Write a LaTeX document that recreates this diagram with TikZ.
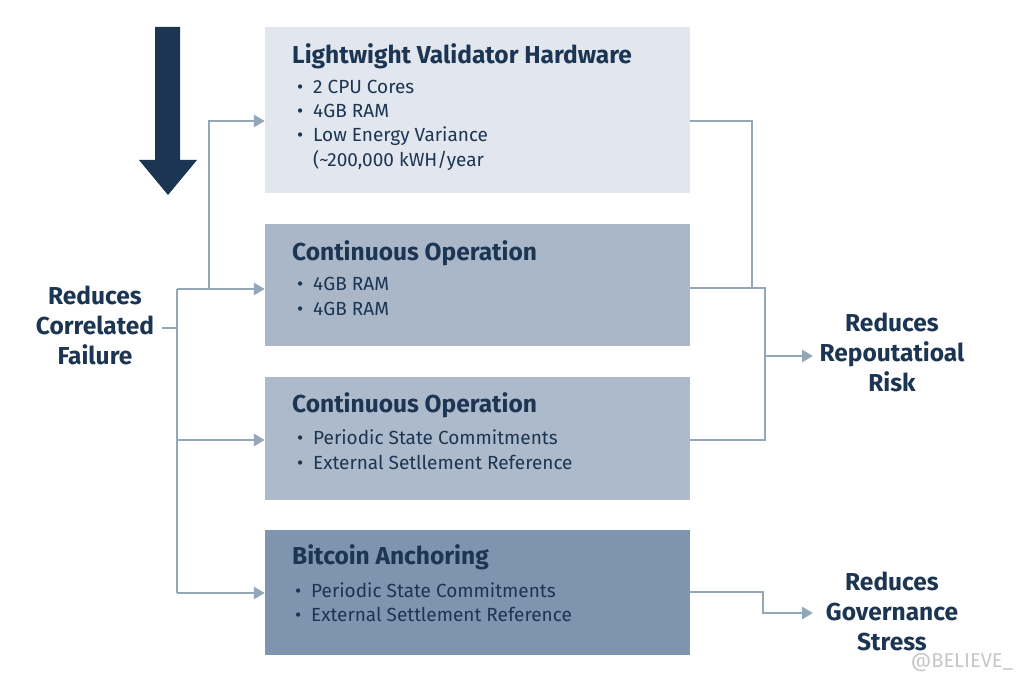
\documentclass[tikz,border=0pt]{standalone}
\usepackage{fontspec}
\setmainfont{Fira Sans}
\usepackage{tikz}
\usetikzlibrary{arrows.meta}
\definecolor{navy}{HTML}{1B3552}
\definecolor{wirec}{HTML}{93A6BA}
\definecolor{boxa}{HTML}{E2E7EF}
\definecolor{boxb}{HTML}{A9B7C9}
\definecolor{boxc}{HTML}{ADBACB}
\definecolor{boxd}{HTML}{7F94AE}
\newcommand{\bul}{\makebox[16pt][l]{•}}
\tikzstyle{card}=[rectangle, minimum width=425pt, minimum height=122pt, inner sep=0pt]
\tikzstyle{ttl}=[anchor=west, inner sep=0pt, text=navy, font=\fontsize{24.5}{27}\selectfont\bfseries]
\tikzstyle{itm}=[anchor=west, inner sep=0pt, text=navy, font=\fontsize{19}{22}\selectfont]
\tikzstyle{lbl}=[align=center, text=navy, font=\fontsize{24.5}{30}\selectfont\bfseries]
\tikzstyle{wire}=[draw=wirec, line width=2.8pt]
\tikzstyle{link}=[wire, -{Triangle[length=11pt, width=12pt]}]

\begin{document}
\begin{tikzpicture}[x=1pt, y=-1pt]
                    \useasboundingbox (0,0) rectangle (1023,676);
                    % down arrow
                    \fill[navy] (155,27)--(180,27)--(180,160)--(197,160)--(168,195)--(139,160)--(155,160)--cycle;
                    % boxes
                    \node[card, fill=boxa, minimum height=166pt] (hw) at (477.5,110) {};
                    \node[card, fill=boxb] (opa) at (477.5,285.5) {};
                    \node[card, fill=boxc, minimum height=123pt] (opb) at (477.5,438.5) {};
                    \node[card, fill=boxd, minimum height=125pt] (btc) at (477.5,592.5) {};
                    \node[ttl] (hwT) at (292,56) {Lightwight Validator Hardware};
                    \node[itm] (hw1) at (297,87) {\bul 2 CPU Cores};
                    \node[itm] (hw2) at (297,111) {\bul 4GB RAM};
                    \node[itm] (hw3) at (297,136) {\bul Low Energy Variance};
                    \node[itm] (hw4) at (313,160) {(\textasciitilde200,000 kWH/year};
                    \node[ttl] (opaT) at (292,253) {Continuous Operation};
                    \node[itm] (opa1) at (297,284) {\bul 4GB RAM};
                    \node[itm] (opa2) at (297,309) {\bul 4GB RAM};
                    \node[ttl] (opbT) at (292,405) {Continuous Operation};
                    \node[itm] (opb1) at (297,437) {\bul Periodic State Commitments};
                    \node[itm] (opb2) at (297,462) {\bul External Setllement Reference};
                    \node[ttl] (btcT) at (292,557) {Bitcoin Anchoring};
                    \node[itm] (btc1) at (295,590) {\bul Periodic State Commitments};
                    \node[itm] (btc2) at (295,614) {\bul External Settlement Reference};
                    % labels
                    \node[lbl] (cf) at (95,325) {Reduces\\Correlated\\Failure};
                    \node[lbl] (rr) at (892,352) {Reduces\\Repoutatioal\\Risk};
                    \node[lbl] (gs) at (892,611) {Reduces\\Governance\\Stress};
                    \node[text=gray!45, font=\fontsize{20}{22}\selectfont, inner sep=0pt] (wm) at (962,663) {@BELIEVE\_};
                    % left connectors
                    \coordinate (cfS) at (162,328);
                    \coordinate (jL) at (177,328);
                    \coordinate (tA) at (177,289);
                    \coordinate (tB) at (177,440);
                    \coordinate (tC) at (177,593);
                    \coordinate (bA) at (209,289);
                    \draw[wire] (cfS)--(jL);
                    \draw[wire] (tA)--(tC);
                    \draw[link] (tA)--(opa.west |- tA);
                    \draw[link] (tB)--(opb.west |- tB);
                    \draw[link] (tC)--(btc.west |- tC);
                    \draw[link] (bA) |- (hw.west |- 0,121);
                    % right connectors
                    \coordinate (rA) at (752,288);
                    \coordinate (rB) at (765,288);
                    \coordinate (rC) at (765,440);
                    \coordinate (rM) at (765,356);
                    \coordinate (rrIn) at (813,356);
                    \coordinate (gA) at (763,592);
                    \coordinate (gB) at (763,613);
                    \coordinate (gsIn) at (813,613);
                    \draw[wire] (hw.east |- 0,121) -| (rA);
                    \draw[wire] (opa.east |- rB)--(rB)--(rC)--(opb.east |- rC);
                    \draw[link] (rM)--(rrIn);
                    \draw[link] (btc.east |- gA)--(gA)--(gB)--(gsIn);
                \end{tikzpicture}
\end{document}
